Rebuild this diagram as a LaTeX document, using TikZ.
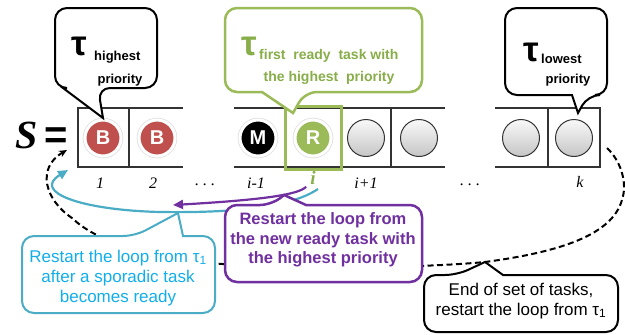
\documentclass[tikz,border=0pt]{standalone}
\usepackage{fontspec}
\setmainfont{Liberation Sans}
\newfontfamily\idxfont{Liberation Serif}
\usetikzlibrary{arrows.meta}
\definecolor{bred}{HTML}{C0504D}
\definecolor{bgreen}{HTML}{9BBB59}
\definecolor{tgreen}{HTML}{88AE4A}
\definecolor{bcyan}{HTML}{4BACC6}
\definecolor{tcyan}{HTML}{12AEEA}
\definecolor{bpurple}{HTML}{7030A0}
\begin{document}
\begin{tikzpicture}[x=1pt,y=-1pt,
  cellline/.style={draw=black!80, line width=1.3pt},
  ball/.style={circle, minimum size=36pt, inner sep=0pt, line width=3pt, draw=white,
     preaction={draw=black!12, line width=4.6pt},
     font=\bfseries\fontsize{20}{20}\selectfont, text=white},
  grayball/.style={circle, minimum size=37pt, inner sep=0pt, draw=black!80, line width=1pt,
     top color=gray!5, bottom color=gray!45},
  idx/.style={font=\idxfont\itshape\fontsize{16}{16}\selectfont, inner sep=0pt},
  bubble/.style={line width=2pt, rounded corners=12pt, fill=white},
  tau/.style={font=\bfseries\fontsize{35}{35}\selectfont, inner sep=0pt},
  sub/.style={font=\bfseries\fontsize{13}{13}\selectfont, inner sep=0pt},
  gsub/.style={font=\bfseries\fontsize{14}{14}\selectfont, inner sep=0pt, text=tgreen},
  note/.style={align=center, inner sep=0pt, font=\fontsize{17}{20}\selectfont},
  arr/.style={line width=2.2pt, -{Triangle[length=10pt,width=9pt]}}
]
\useasboundingbox (0,0) rectangle (625,335);

% S =
\node[font=\idxfont\itshape\bfseries\fontsize{40}{40}\selectfont, inner sep=0pt] (S) at (27,135) {S};
\node[font=\bfseries\fontsize{40}{40}\selectfont, inner sep=0pt] (eq) at (56,138) {=};

% connectors drawn beneath the callouts
\coordinate (dstart) at (607,148);
\coordinate (dend) at (67,150);
\draw[line width=2pt, dashed, dash pattern=on 6pt off 3.5pt, -{Stealth[length=8pt,width=7pt]}]
  (dstart) .. controls (620,160) and (628,182) .. (622,200)
  .. controls (612,235) and (560,252) .. (485,262)
  .. controls (400,270) and (250,268) .. (200,262)
  .. controls (140,255) and (95,240) .. (72,218)
  .. controls (45,200) and (36,168) .. (dend);

\coordinate (cstart) at (318,189);
\coordinate (cend) at (68,170);
\draw[arr, bcyan] (cstart) .. controls (290,208) and (230,213) .. (160,212)
  .. controls (80,210) and (32,192) .. (cend);

% cells
\draw[cellline] (183,108) -- (78,108) -- (78,167) -- (183,167);
\draw[cellline] (129,108) -- (129,167);
\draw[cellline] (234,108) -- (445,108);
\draw[cellline] (234,167) -- (445,167);
\draw[cellline] (391,108) -- (391,167);
\draw[cellline] (495,108) -- (600,108) -- (600,167) -- (495,167);
\draw[cellline] (548,108) -- (548,167);

% balls
\node[ball, fill=bred] (b1) at (103,138) {B};
\node[ball, fill=bred] (b2) at (157,138) {B};
\node[ball, fill=black] (m) at (258,138) {M};
\node[ball, fill=bgreen] (r) at (313,138) {R};
\node[grayball] (g1) at (366,138) {};
\node[grayball] (g2) at (419,138) {};
\node[grayball] (g3) at (521,138) {};
\node[grayball] (g4) at (574,138) {};
\draw[bgreen, line width=3pt] (285,106) rectangle (341,169);

% indices
\node[idx] (i1) at (100,183) {1};
\node[idx] (i2) at (153,183) {2};
\node[idx] (d1) at (205,185) {.\hspace{4pt}.\hspace{4pt}.};
\node[idx] (im) at (256,183) {i-1};
\node[idx, text=tgreen, font=\idxfont\itshape\bfseries\fontsize{19}{19}\selectfont] (ii) at (313,178) {i};
\node[idx] (ip) at (366,183) {i+1};
\node[idx] (d2) at (470,185) {.\hspace{4pt}.\hspace{4pt}.};
\node[idx] (ik) at (580,182) {k};

% purple arrow
\draw[arr, bpurple] (ii.south west) ++(-4,2) coordinate (pstart)
  .. controls (298,195) and (260,200) .. (173,205) coordinate (pend);

% top callouts
\draw[bubble] (106,8) -- (157,8) -- (157,88) -- (98,88) [sharp corners] -- (103,118) -- (63,88) [rounded corners=12pt] -- (55,88) -- (55,8) -- cycle;
\node[tau] (tauH) at (79,46) {τ};
\node[sub, anchor=west] (subH) at (94,57) {highest};
\node[sub] (priH) at (120,80) {priority};

\draw[bubble, draw=bgreen, line width=2.5pt] (323,8) -- (422,8) -- (422,92) -- (305,92) [sharp corners] -- (293,113) -- (262,92) [rounded corners=12pt] -- (225,92) -- (225,8) -- cycle;
\node[tau, text=tgreen] (tauF) at (249,46) {τ};
\node[gsub, anchor=west] (subF) at (259,56) {first\ \ ready\ \ task with};
\node[gsub] (subF2) at (329,78) {the highest\ \ priority};

\draw[bubble] (556,8) -- (607,8) -- (607,95) -- (588,95) [sharp corners] -- (578,113) -- (572,95) [rounded corners=12pt] -- (505,95) -- (505,8) -- cycle;
\node[tau] (tauL) at (531,52) {τ};
\node[sub, anchor=west] (subL) at (541,59) {lowest};
\node[sub] (priL) at (568,80) {priority};

% bottom callouts
\draw[bubble, draw=bcyan] (118,313) -- (22,313) -- (22,236) -- (135,236) [sharp corners] -- (178,213) -- (183,236) [rounded corners=12pt] -- (215,236) -- (215,313) -- cycle;
\node[note, text=tcyan] (cyanT) at (118,278) {Restart the loop from τ\textsubscript{1}\\after a sporadic task\\becomes ready};

\draw[bubble, draw=bpurple, line width=2.5pt] (323,282) -- (225,282) -- (225,205) -- (272,205) [sharp corners] -- (284,195) -- (306,205) [rounded corners=12pt] -- (422,205) -- (422,282) -- cycle;
\node[note, text=bpurple, font=\bfseries\fontsize{16.5}{19.5}\selectfont] (purT) at (323,240) {Restart the loop from\\the new ready task with\\the highest priority};

\draw[bubble] (521,332) -- (424,332) -- (424,275) -- (457,275) [sharp corners] -- (485,262) -- (503,275) [rounded corners=12pt] -- (618,275) -- (618,332) -- cycle;
\node[note] (endT) at (521,301) {End of set of tasks,\\restart the loop from τ\textsubscript{1}};
\end{tikzpicture}
\end{document}
